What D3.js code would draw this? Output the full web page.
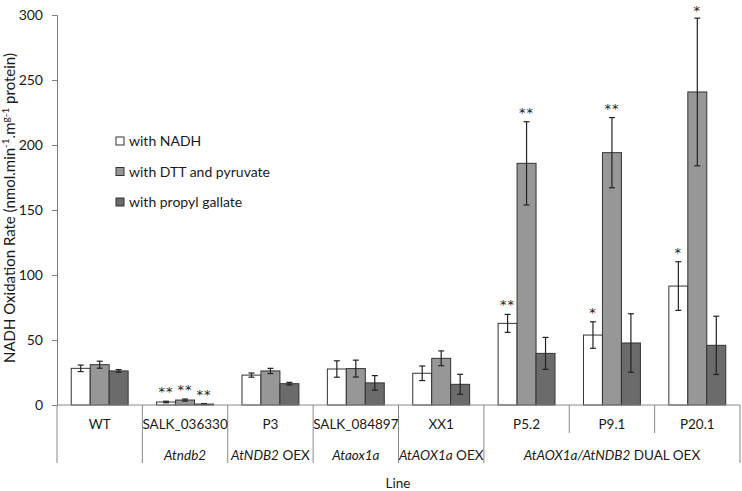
<!DOCTYPE html>
<html><head><meta charset="utf-8">
<script src="https://cdn.jsdelivr.net/npm/d3@7"></script>
<style>
body{margin:0;background:#fff;}
text{font-family:Lato,"Open Sans",sans-serif;fill:#1a1a1a;}
</style></head>
<body>
<svg id="c" width="742" height="491"></svg>
<script>
const lines = ["WT","SALK_036330","P3","SALK_084897","XX1","P5.2","P9.1","P20.1"];
const seriesNames = ["with NADH","with DTT and pyruvate","with propyl gallate"];
const nadh     = [28.2, 2.3, 23.0, 27.7, 24.4, 62.8, 53.8, 91.5];
const nadhErr  = [2.5, 0.6, 1.6, 6.3, 5.6, 6.9, 10.2, 18.7];
const dtt      = [31.0, 3.8, 26.2, 28.0, 35.9, 185.9, 194.1, 240.8];
const dttErr   = [2.7, 0.8, 2.0, 6.5, 5.7, 32.0, 27.0, 56.8];
const pg       = [26.2, 0.7, 16.4, 17.0, 15.9, 39.7, 47.7, 45.9];
const pgErr    = [1.0, 0.3, 1.0, 5.6, 7.7, 12.3, 22.5, 22.4];
const nadhSig  = ["", "**", "", "", "", "**", "*", "*"];
const dttSig   = ["", "**", "", "", "", "**", "**", "*"];
const pgSig    = ["", "**", "", "", "", "", "", ""];
const yTicks = [0,50,100,150,200,250,300];
const groups = [
  {from:"WT", to:"WT", parts:[]},
  {from:"SALK_036330", to:"SALK_036330", parts:[{t:"Atndb2",i:true}]},
  {from:"P3", to:"P3", parts:[{t:"AtNDB2",i:true},{t:" OEX",i:false}]},
  {from:"SALK_084897", to:"SALK_084897", parts:[{t:"Ataox1a",i:true}]},
  {from:"XX1", to:"XX1", parts:[{t:"AtAOX1a",i:true},{t:" OEX",i:false}]},
  {from:"P5.2", to:"P20.1", parts:[{t:"AtAOX1a/AtNDB2",i:true},{t:" DUAL OEX",i:false}]}
];

const values = [nadh, dtt, pg], errs = [nadhErr, dttErr, pgErr], sigs = [nadhSig, dttSig, pgSig];
const fills = ["#ffffff","#979797","#6b6b6b"];
const svg = d3.select("#c");
const L = 57, R = 740, T = 15, B = 405;
const x0 = d3.scaleBand().domain(lines).range([L, R]).paddingInner(0).paddingOuter(0);
const x1 = d3.scaleBand().domain([0,1,2]).range([0, x0.bandwidth()]).paddingInner(0).paddingOuter(0.75);
const y = d3.scaleLinear().domain([0,300]).range([B, T]);

// y axis
const ya = svg.append("g").attr("transform",`translate(${L},0)`)
  .call(d3.axisLeft(y).tickValues(yTicks).tickSize(5).tickPadding(9));
ya.select(".domain").attr("stroke","#7f7f7f");
ya.selectAll(".tick line").attr("stroke","#7f7f7f");
ya.selectAll(".tick text").style("font-size","14px").attr("fill","#1a1a1a").style("font-family","Lato");

// bars
lines.forEach((c,i)=>{
  const g = svg.append("g").attr("transform",`translate(${x0(c)},0)`);
  [0,1,2].forEach(s=>{
    const v = values[s][i], e = errs[s][i];
    const bx = x1(s), bw = x1.bandwidth();
    g.append("rect").attr("x",bx).attr("y",y(v)).attr("width",bw).attr("height",B-y(v))
      .attr("fill",fills[s]).attr("stroke","#333").attr("stroke-width",1);
    const cx = bx + bw/2;
    const eg = g.append("g").attr("stroke","#222").attr("stroke-width",1.2);
    eg.append("line").attr("x1",cx).attr("x2",cx).attr("y1",y(v+e)).attr("y2",y(Math.max(0,v-e)));
    eg.append("line").attr("x1",cx-3).attr("x2",cx+3).attr("y1",y(v+e)).attr("y2",y(v+e));
    eg.append("line").attr("x1",cx-3).attr("x2",cx+3).attr("y1",y(Math.max(0,v-e))).attr("y2",y(Math.max(0,v-e)));
    if (sigs[s][i]) {
      g.append("text").attr("x",cx).attr("y",Math.max(y(v+e)-5, 15)).attr("text-anchor","middle")
        .style("font-family","'DejaVu Sans'").style("font-size","13px").style("letter-spacing","1px")
        .attr("fill","#1a1a1a").text(sigs[s][i]);
    }
  });
});

// x axis multi-level
const ax = svg.append("g").attr("stroke","#8a8a8a").attr("stroke-width",1);
ax.append("line").attr("x1",L).attr("x2",R).attr("y1",B).attr("y2",B);
const groupEdges = new Set();
groups.forEach(gr=>{ groupEdges.add(x0(gr.from)); groupEdges.add(x0(gr.to)+x0.bandwidth()); });
const edges = lines.map(c=>x0(c)).concat([R]);
edges.forEach(ex=>{
  const full = [...groupEdges].some(g=>Math.abs(g-ex)<0.5);
  ax.append("line").attr("x1",ex).attr("x2",ex).attr("y1",B).attr("y2",full?463:433);
});
lines.forEach(c=>{
  svg.append("text").attr("x",x0(c)+x0.bandwidth()/2).attr("y",429).attr("text-anchor","middle")
    .style("font-size","13.5px").text(c);
});
groups.forEach(gr=>{
  if (!gr.parts.length) return;
  const cx = (x0(gr.from) + x0(gr.to) + x0.bandwidth())/2;
  const t = svg.append("text").attr("x",cx).attr("y",460).attr("text-anchor","middle").style("font-size","13.5px");
  gr.parts.forEach(p=>t.append("tspan").style("font-style",p.i?"italic":"normal").text(p.t));
});
svg.append("text").attr("x",398).attr("y",488).attr("text-anchor","middle").style("font-size","13.5px").text("Line");

// y label
const yl = svg.append("text").attr("transform","translate(15,208) rotate(-90)").attr("text-anchor","middle")
  .style("font-size","15px");
yl.append("tspan").text("NADH Oxidation Rate (nmol.min");
yl.append("tspan").attr("dy",-6).style("font-size","10px").text("-1");
yl.append("tspan").attr("dy",6).text(".m");
yl.append("tspan").attr("dy",-6).style("font-size","10px").text("g-1");
yl.append("tspan").attr("dy",6).text(" protein)");

// legend
const lg = svg.append("g");
seriesNames.forEach((n,s)=>{
  const ly = 141 + s*30.5;
  lg.append("rect").attr("x",116).attr("y",ly-4).attr("width",8).attr("height",8)
    .attr("fill",fills[s]).attr("stroke","#333").attr("stroke-width",1);
  lg.append("text").attr("x",129).attr("y",ly+5).style("font-size","14px").text(n);
});
</script>
</body></html>
